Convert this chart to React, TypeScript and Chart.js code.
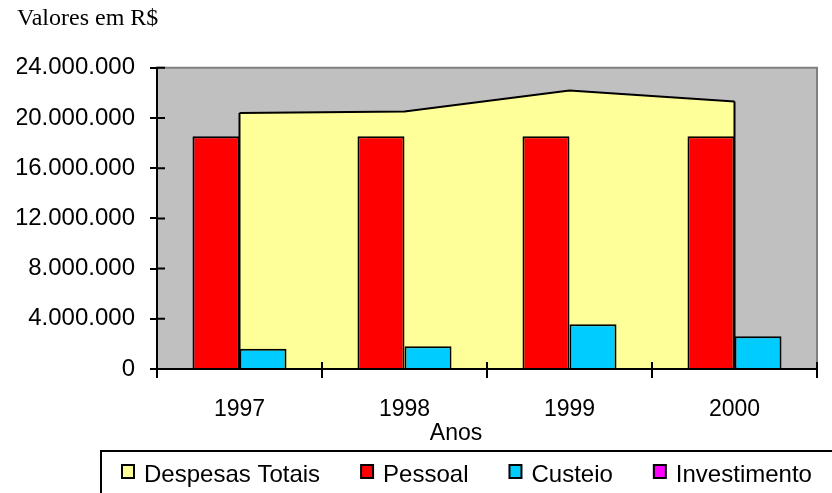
import { useEffect, useRef } from "react";
import { Chart, registerables } from "chart.js";

Chart.register(...registerables);

const categories = ["1997", "1998", "1999", "2000"];
const seriesNames = ["Despesas Totais", "Pessoal", "Custeio", "Investimento"];
const despesasTotais = [20390000, 20520000, 22190000, 21320000];
const pessoal = [18550000, 18550000, 18550000, 18550000];
const custeio = [1620000, 1810000, 3560000, 2610000];
const investimento = [0, 0, 0, 150000];
const yTickLabels = ["0", "4.000.000", "8.000.000", "12.000.000", "16.000.000", "20.000.000", "24.000.000"];
const chartTitle = "Valores em R$";
const xAxisTitle = "Anos";

const SANS = '"Liberation Sans", Arial, sans-serif';
const SERIF = '"Liberation Serif", "Times New Roman", serif';

const excelFrame = {
  id: "excelFrame",
  beforeDraw(chart: any) {
    const { ctx, chartArea: a } = chart;
    ctx.save();
    ctx.fillStyle = "#C0C0C0";
    ctx.fillRect(a.left, a.top, a.right - a.left, a.bottom - a.top);
    ctx.restore();
  },
  afterDatasetDraw(chart: any, args: any) {
    if (args.index !== 0) return;
    const meta = chart.getDatasetMeta(0);
    const pts = meta.data;
    if (!pts.length) return;
    const base = chart.scales.y.getPixelForValue(0);
    const { ctx } = chart;
    ctx.save();
    ctx.strokeStyle = "#000";
    ctx.lineWidth = 2;
    ctx.beginPath();
    const f = pts[0];
    const l = pts[pts.length - 1];
    ctx.moveTo(f.x, f.y);
    ctx.lineTo(f.x, base);
    ctx.moveTo(l.x, l.y);
    ctx.lineTo(l.x, base);
    ctx.stroke();
    ctx.restore();
  },
  afterDatasetsDraw(chart: any) {
    const { ctx, chartArea: a } = chart;
    ctx.save();
    ctx.lineWidth = 2;
    ctx.strokeStyle = "#808080";
    ctx.beginPath();
    ctx.moveTo(a.left, a.top);
    ctx.lineTo(a.right, a.top);
    ctx.lineTo(a.right, a.bottom);
    ctx.stroke();
    ctx.strokeStyle = "#000";
    ctx.beginPath();
    ctx.moveTo(a.left, a.top - 1);
    ctx.lineTo(a.left, a.bottom);
    ctx.lineTo(a.right + 1, a.bottom);
    const ys = chart.scales.y;
    ys.ticks.forEach((t: any) => {
      const y = ys.getPixelForValue(t.value);
      ctx.moveTo(a.left, y);
      ctx.lineTo(a.left + 8, y);
    });
    const n = categories.length;
    const w = (a.right - a.left) / n;
    for (let i = 0; i <= n; i++) {
      const x = a.left + i * w;
      ctx.moveTo(x, a.bottom);
      ctx.lineTo(x, a.bottom - 7);
    }
    ctx.stroke();
    ctx.restore();
  },
  afterDraw(chart: any) {
    const { ctx } = chart;
    ctx.save();
    ctx.fillStyle = "#000";
    ctx.font = `23px ${SANS}`;
    ctx.textAlign = "center";
    ctx.textBaseline = "middle";
    ctx.fillText(xAxisTitle, 456, 434);
    ctx.strokeStyle = "#000";
    ctx.lineWidth = 2;
    ctx.strokeRect(101, 451, 900, 100);
    ctx.font = `24px ${SANS}`;
    ctx.textAlign = "left";
    let x = 121;
    chart.data.datasets.forEach((ds: any) => {
      ctx.fillStyle = ds.backgroundColor;
      ctx.fillRect(x + 1, 465, 12, 13);
      ctx.strokeStyle = "#000";
      ctx.lineWidth = 2;
      ctx.strokeRect(x + 1, 465, 12, 13);
      ctx.fillStyle = "#000";
      ctx.fillText(ds.label, x + 23, 475);
      x += 23 + ctx.measureText(ds.label).width + 40;
    });
    ctx.restore();
  },
};

export default function App() {
  const ref = useRef<HTMLCanvasElement | null>(null);
  useEffect(() => {
    document.body.style.margin = "0";
    if (!ref.current) return;
    Chart.defaults.font.family = SANS;
    const chart = new Chart(ref.current, {
      type: "bar",
      data: {
        labels: categories,
        datasets: [
          {
            type: "line",
            label: seriesNames[0],
            data: despesasTotais,
            backgroundColor: "#FFFF99",
            borderColor: "#000",
            borderWidth: 2,
            pointRadius: 0,
            fill: "origin",
            tension: 0,
            order: 10,
          } as any,
          {
            label: seriesNames[1],
            data: pessoal,
            backgroundColor: "#FF0000",
            borderColor: "#000",
            borderWidth: 2,
            categoryPercentage: 0.57,
            barPercentage: 1,
            order: 1,
          },
          {
            label: seriesNames[2],
            data: custeio,
            backgroundColor: "#00CCFF",
            borderColor: "#000",
            borderWidth: 2,
            categoryPercentage: 0.57,
            barPercentage: 1,
            order: 1,
          },
          {
            label: seriesNames[3],
            data: investimento,
            backgroundColor: "#FF00FF",
            borderColor: "#000",
            borderWidth: 2,
            grouped: false,
            categoryPercentage: 0.4,
            barPercentage: 1,
            order: 1,
          } as any,
        ],
      },
      options: {
        responsive: false,
        animation: false,
        layout: { padding: { left: 17, right: 15, top: 0, bottom: 64 } },
        plugins: {
          legend: { display: false },
          tooltip: { enabled: false },
          title: {
            display: true,
            text: chartTitle,
            align: "start",
            color: "#000",
            font: { family: SERIF, size: 24, weight: "normal" },
            padding: { top: 4, bottom: 35 },
          },
        },
        scales: {
          x: {
            offset: true,
            grid: {
              offset: true,
              drawOnChartArea: false,
              drawTicks: true,
              tickLength: 9,
              color: "#000",
              lineWidth: 2,
            },
            border: { display: true, color: "#000", width: 2 },
            ticks: { color: "#000", font: { size: 23 }, padding: 18 },
            afterFit: (s: any) => {
              s.height = 60;
            },
          },
          y: {
            min: 0,
            max: 24000000,
            ticks: {
              stepSize: 4000000,
              color: "#000",
              font: { size: 24 },
              padding: 15,
              callback: (_v: any, i: number) => yTickLabels[i],
            },
            grid: {
              drawOnChartArea: false,
              drawTicks: true,
              tickLength: 7,
              color: "#000",
              lineWidth: 2,
            },
            border: { display: true, color: "#000", width: 2 },
            afterFit: (s: any) => {
              s.width = 140;
            },
          },
        },
      },
      plugins: [excelFrame],
    });
    return () => chart.destroy();
  }, []);
  return <canvas ref={ref} width={832} height={493} style={{ display: "block" }} />;
}
